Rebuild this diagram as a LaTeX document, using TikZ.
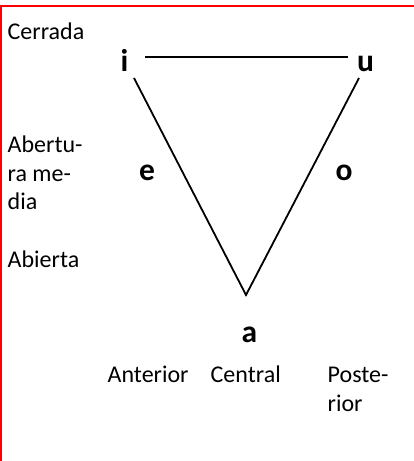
\documentclass[tikz,border=0pt]{standalone}
\usepackage{fontspec}
\setmainfont{Carlito}
\begin{document}
\begin{tikzpicture}[x=1pt,y=-1pt,
  lbl/.style={anchor=base west,inner sep=0pt,font=\fontsize{24}{29}\selectfont,align=left},
  vow/.style={anchor=base west,inner sep=0pt,font=\fontsize{31.5}{38}\selectfont\bfseries},
  edge/.style={line width=1.8pt,black},
  frame/.style={draw=red,line width=2.3pt}]
\useasboundingbox (0,0) rectangle (414,461);
\draw[frame] (0.6,461) -- (0.6,6) -- (414,6);
% row labels
\node[lbl] (cerrada) at (7.5,39) {Cerrada};
\node[lbl] (abertu) at (7.5,152) {Abertu-};
\node[lbl] (rame) at (7.5,181) {ra me-};
\node[lbl] (dia) at (7.5,209) {dia};
\node[lbl] (abierta) at (7.5,267) {Abierta};
% vowels
\node[vow] (i) at (120.5,71) {i};
\node[vow] (u) at (357,71) {u};
\node[vow] (e) at (139,180) {e};
\node[vow] (o) at (335.5,180) {o};
\node[vow] (a) at (241.5,342) {a};
% column labels
\node[lbl] (ant) at (107.5,382) {Anterior};
\node[lbl] (cen) at (210.5,382) {Central};
\node[lbl] (pos) at (327.5,382) {Poste-};
\node[lbl] (rior) at (327.5,411) {rior};
% triangle
\coordinate (hl) at (145,57);
\coordinate (hr) at (348,57);
\coordinate (tl) at (134,78);
\coordinate (tr) at (359,78);
\coordinate (bot) at (246,295);
\draw[edge] (hl) -- (hr);
\draw[edge,line join=miter] (tl) -- (bot) -- (tr);
\end{tikzpicture}
\end{document}
